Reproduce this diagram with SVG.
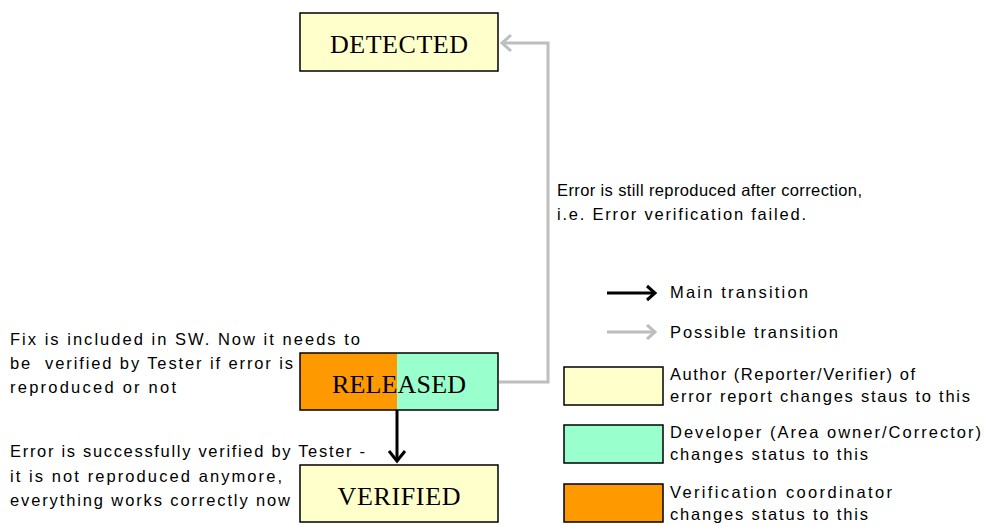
<svg xmlns="http://www.w3.org/2000/svg" width="985" height="527" viewBox="0 0 985 527">
  <style>
    .state { stroke: #000; stroke-width: 1.5; }
    .author { fill: #FFFFCC; }
    .developer { fill: #99FFCC; }
    .coordinator { fill: #FF9900; }
    .label { font-family: "Liberation Serif", "DejaVu Serif", serif; font-size: 26px; fill: #000; text-anchor: middle; }
    .note { font-family: "Liberation Sans", Arial, sans-serif; font-size: 16.5px; fill: #000; white-space: pre; }
    .main { stroke: #000; stroke-width: 3; fill: none; }
    .possible { stroke: #BEBEBE; stroke-width: 3; fill: none; }
    .head-main { stroke: #000; stroke-width: 3; fill: none; stroke-linejoin: miter; }
    .head-possible { stroke: #BEBEBE; stroke-width: 3; fill: none; stroke-linejoin: miter; }
  </style>

  <!-- state nodes -->
  <g id="detected">
    <rect class="state author" x="300" y="13" width="198" height="58"/>
    <text class="label" x="399" y="53" textLength="138" lengthAdjust="spacing">DETECTED</text>
  </g>
  <g id="released">
    <rect class="coordinator" x="300" y="353" width="97" height="57"/>
    <rect class="developer" x="397" y="353" width="101" height="57"/>
    <rect x="300" y="353" width="198" height="57" fill="none" stroke="#000" stroke-width="1.5"/>
    <text class="label" x="399" y="393" textLength="134" lengthAdjust="spacing">RELEASED</text>
  </g>
  <g id="verified">
    <rect class="state author" x="300" y="465" width="198" height="57"/>
    <text class="label" x="399" y="505" textLength="123" lengthAdjust="spacing">VERIFIED</text>
  </g>

  <!-- transitions -->
  <g id="connectors">
    <polyline class="possible" points="499,382 548,382 548,43 502,43"/>
    <polyline class="head-possible" points="511,35 502,43 511,51"/>
    <line class="main" x1="397" y1="410" x2="397" y2="461"/>
    <polyline class="head-main" points="389,451 397,461 405,451"/>
  </g>

  <!-- annotations -->
  <g id="notes">
    <text class="note" x="10" y="345" textLength="350" lengthAdjust="spacing">Fix is included in SW. Now it needs to</text>
    <text class="note" x="10" y="369" textLength="283" lengthAdjust="spacing">be  verified by Tester if error is</text>
    <text class="note" x="10" y="393" textLength="166" lengthAdjust="spacing">reproduced or not</text>
    <text class="note" x="10" y="457" textLength="355" lengthAdjust="spacing">Error is successfully verified by Tester -</text>
    <text class="note" x="10" y="482" textLength="272" lengthAdjust="spacing">it is not reproduced anymore,</text>
    <text class="note" x="10" y="506" textLength="280" lengthAdjust="spacing">everything works correctly now</text>
    <text class="note" x="557" y="196" textLength="305" lengthAdjust="spacing">Error is still reproduced after correction,</text>
    <text class="note" x="557" y="220" textLength="249" lengthAdjust="spacing">i.e. Error verification failed.</text>
  </g>

  <!-- legend -->
  <g id="legend">
    <line class="main" x1="607" y1="293" x2="654" y2="293"/>
    <polyline class="head-main" points="647,286 655,293 647,300"/>
    <text class="note" x="670" y="298" textLength="138" lengthAdjust="spacing">Main transition</text>
    <line class="possible" x1="607" y1="332" x2="654" y2="332"/>
    <polyline class="head-possible" points="647,325 655,332 647,339"/>
    <text class="note" x="670" y="338" textLength="168" lengthAdjust="spacing">Possible transition</text>

    <rect class="state author" x="564" y="367" width="99" height="38"/>
    <text class="note" x="670" y="380" textLength="245" lengthAdjust="spacing">Author (Reporter/Verifier) of</text>
    <text class="note" x="670" y="402" textLength="300" lengthAdjust="spacing">error report changes staus to this</text>

    <rect class="state developer" x="564" y="425" width="99" height="38"/>
    <text class="note" x="670" y="438" textLength="311" lengthAdjust="spacing">Developer (Area owner/Corrector)</text>
    <text class="note" x="670" y="460" textLength="198" lengthAdjust="spacing">changes status to this</text>

    <rect class="state coordinator" x="564" y="484" width="99" height="38"/>
    <text class="note" x="670" y="498" textLength="222" lengthAdjust="spacing">Verification coordinator</text>
    <text class="note" x="670" y="520" textLength="198" lengthAdjust="spacing">changes status to this</text>
  </g>
</svg>
